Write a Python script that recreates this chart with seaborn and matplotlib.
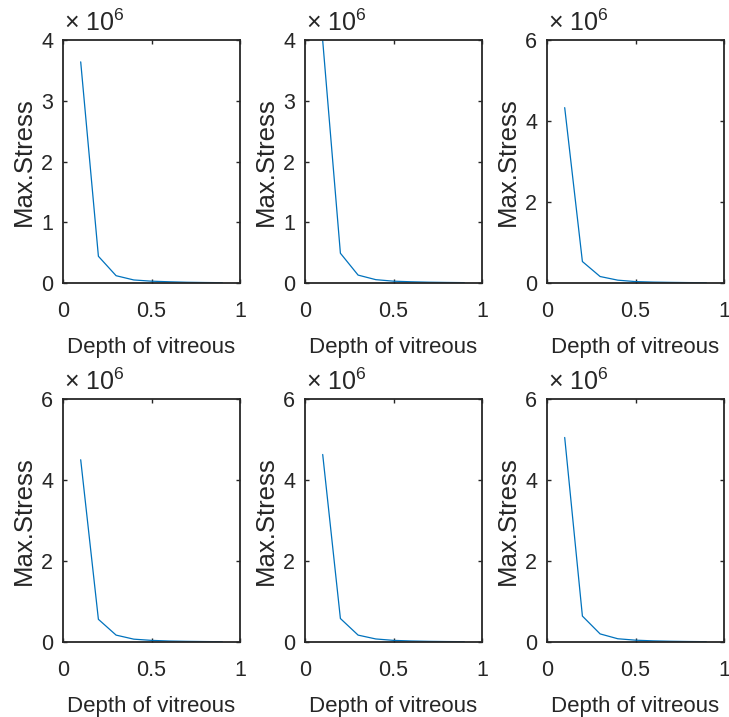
import numpy as np
import pandas as pd
import matplotlib
matplotlib.use('Agg')
import matplotlib.pyplot as plt
import seaborn as sns

sns.set_style('ticks')
plt.rcParams['font.family'] = ['Liberation Sans', 'DejaVu Sans']
plt.rcParams['mathtext.fontset'] = 'custom'
plt.rcParams['mathtext.rm'] = 'Liberation Sans'
plt.rcParams['mathtext.it'] = 'Liberation Sans'

# 玻璃体深度（横轴）
depth = [0.1, 0.2, 0.3, 0.4, 0.5, 0.6, 0.7, 0.8, 0.9]

# 各子图的最大应力（单位 1e6）
stress_1 = [3.64, 0.44, 0.12, 0.05, 0.03, 0.02, 0.012, 0.008, 0.005]
stress_2 = [3.99, 0.49, 0.13, 0.055, 0.03, 0.02, 0.013, 0.009, 0.006]
stress_3 = [4.33, 0.53, 0.16, 0.07, 0.035, 0.022, 0.015, 0.01, 0.007]
stress_4 = [4.50, 0.56, 0.17, 0.07, 0.04, 0.024, 0.016, 0.011, 0.007]
stress_5 = [4.63, 0.58, 0.17, 0.075, 0.04, 0.025, 0.016, 0.011, 0.008]
stress_6 = [5.05, 0.64, 0.20, 0.08, 0.045, 0.028, 0.018, 0.012, 0.008]

all_stress = [stress_1, stress_2, stress_3, stress_4, stress_5, stress_6]
y_tops = [4, 4, 6, 6, 6, 6]
y_ticks = [[0, 1, 2, 3, 4], [0, 1, 2, 3, 4], [0, 2, 4, 6], [0, 2, 4, 6], [0, 2, 4, 6], [0, 2, 4, 6]]

fig = plt.figure(figsize=(7.29, 7.17), dpi=100)
W, H = 729, 717
lefts = [63, 305, 547]
bottoms_px = [283, 642]   # 像素坐标下边界
aw, ah = 177, 243
ink = '#262626'

for i, stress in enumerate(all_stress):
    r, c = divmod(i, 3)
    l = lefts[c]
    b = bottoms_px[r]
    ax = fig.add_axes([l / W, (H - b) / H, aw / W, ah / H])
    df = pd.DataFrame({'depth': depth, 'stress': stress})
    sns.lineplot(data=df, x='depth', y='stress', ax=ax, color='#0072BD', linewidth=0.9)
    ax.set_xlim(0, 1)
    ax.set_ylim(0, y_tops[i])
    ax.set_xticks([0, 0.5, 1])
    ax.set_xticklabels(['0', '0.5', '1'])
    ax.set_yticks(y_ticks[i])
    ax.set_yticklabels([str(t) for t in y_ticks[i]])
    ax.tick_params(direction='in', top=True, right=True, length=3, width=1,
                   labelsize=15.5, colors=ink)
    ax.tick_params(axis='x', pad=13)
    ax.tick_params(axis='y', pad=7)
    for s in ax.spines.values():
        s.set_linewidth(1.3)
        s.set_color(ink)
    ax.set_xlabel('Depth of vitreous', fontsize=16, color=ink, labelpad=11)
    ax.set_ylabel('Max.Stress', fontsize=18.5, color=ink, labelpad=4)
    ax.annotate('× 10$^{6}$', xy=(0, 1), xycoords='axes fraction',
                xytext=(1, 3), textcoords='offset points',
                fontsize=18, color=ink, ha='left', va='bottom')

plt.savefig('out.png', dpi=100)
